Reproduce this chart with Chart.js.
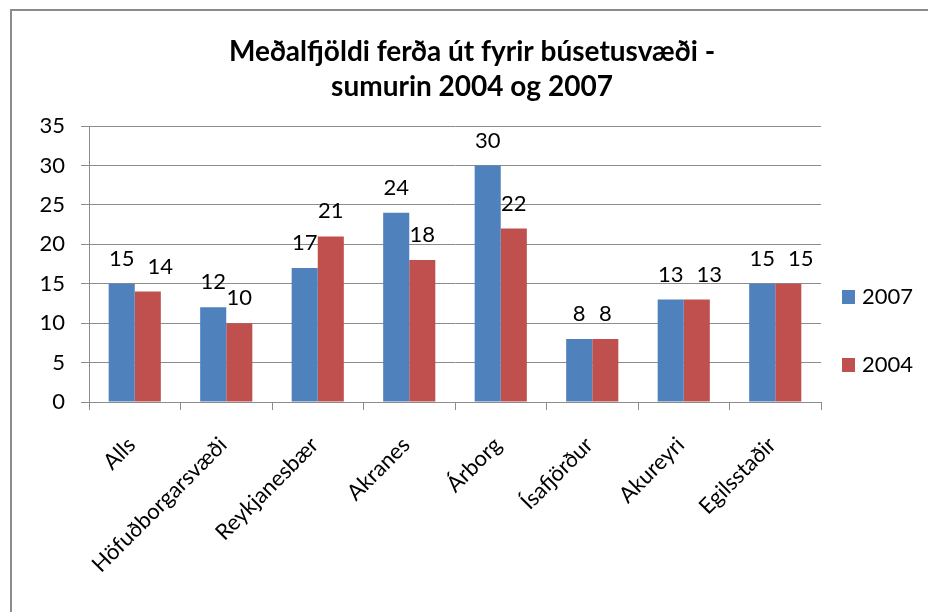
<!DOCTYPE html>
<html>
<head>
<meta charset="utf-8">
<script src="https://cdn.jsdelivr.net/npm/chart.js@4"></script>
<style>
  html, body { margin: 0; padding: 0; background: #fff; }
  #wrap { position: absolute; left: 0; top: 0; width: 928px; height: 612px; overflow: hidden; }
  #frame { position: absolute; left: 10px; top: 9px; width: 940px; height: 640px; border: 2px solid #8c8c8c; box-sizing: border-box; }
  #c { position: absolute; left: 0; top: 0; }
</style>
</head>
<body>
<div id="wrap">
  <div id="frame"></div>
  <canvas id="c" width="928" height="612"></canvas>
</div>
<script>
const categories = ["Alls", "Höfuðborgarsvæði", "Reykjanesbær", "Akranes", "Árborg", "Ísafjörður", "Akureyri", "Egilsstaðir"];
const values2007 = [15, 12, 17, 24, 30, 8, 13, 15];
const values2004 = [14, 10, 21, 18, 22, 8, 13, 15];
const seriesLabels = ["2007", "2004"];
const yTicks = [0, 5, 10, 15, 20, 25, 30, 35];
const titleLines = ["Meðalfjöldi ferða út fyrir búsetusvæði -", "sumurin 2004 og 2007"];

const FONT = "Lato";
const GRAY = "#8c8c8c";
const LABEL_SIZE = 22;

const dataLabelsPlugin = {
  id: "dataLabels",
  afterDatasetsDraw(chart) {
    const ctx = chart.ctx;
    ctx.save();
    ctx.font = LABEL_SIZE + "px " + FONT;
    ctx.fillStyle = "#000";
    ctx.textAlign = "center";
    ctx.textBaseline = "middle";
    const m0 = chart.getDatasetMeta(0);
    const m1 = chart.getDatasetMeta(1);
    const ds = chart.data.datasets;
    m0.data.forEach((el0, j) => {
      const el1 = m1.data[j];
      const t0 = String(ds[0].data[j]);
      const t1 = String(ds[1].data[j]);
      const w0 = ctx.measureText(t0).width;
      const w1 = ctx.measureText(t1).width;
      const y0 = el0.y - 25;
      const y1 = el1.y - 25;
      let x1 = el1.x;
      // simple overlap avoidance like the original (boxes padded by 4px)
      const pad = 4;
      const vOverlap = Math.abs(y1 - y0) < 15;
      const hOverlap = (x1 - w1 / 2 - pad) < (el0.x + w0 / 2 + pad);
      if (vOverlap && hOverlap) {
        x1 = el0.x + w0 / 2 + 13 + w1 / 2;
      }
      ctx.fillText(t0, el0.x, y0);
      ctx.fillText(t1, x1, y1);
    });
    ctx.restore();
  }
};

const legendPlugin = {
  id: "sideLegend",
  afterDraw(chart) {
    const ctx = chart.ctx;
    const area = chart.chartArea;
    ctx.save();
    ctx.font = LABEL_SIZE + "px " + FONT;
    ctx.textBaseline = "middle";
    ctx.textAlign = "left";
    chart.data.datasets.forEach((ds, i) => {
      const cy = area.top + 171 + i * 68;
      const x = area.right + 21;
      ctx.fillStyle = ds.backgroundColor;
      ctx.fillRect(x, cy - 7, 13, 14);
      ctx.fillStyle = "#000";
      ctx.fillText(ds.label, x + 20, cy);
    });
    ctx.restore();
  }
};

new Chart(document.getElementById("c"), {
  type: "bar",
  data: {
    labels: categories,
    datasets: [
      { label: seriesLabels[0], data: values2007, backgroundColor: "#4F81BD", categoryPercentage: 0.57, barPercentage: 1.0 },
      { label: seriesLabels[1], data: values2004, backgroundColor: "#C0504D", categoryPercentage: 0.57, barPercentage: 1.0 }
    ]
  },
  options: {
    responsive: false,
    animation: false,
    devicePixelRatio: 1,
    layout: { padding: { left: 16, right: 0, top: 0, bottom: 0 } },
    plugins: {
      legend: { display: false },
      tooltip: { enabled: false },
      title: {
        display: true,
        text: titleLines,
        color: "#000",
        font: { family: FONT, size: 28, weight: "bold", lineHeight: 1.25 },
        padding: { top: 34, bottom: 22 }
      }
    },
    scales: {
      x: {
        offset: true,
        grid: { display: true, drawOnChartArea: false, drawTicks: true, tickLength: 8, color: GRAY, offset: true },
        border: { display: true, color: GRAY, width: 1 },
        ticks: { color: "#000", font: { family: FONT, size: 22 }, minRotation: 45, maxRotation: 45, autoSkip: false, padding: 22, labelOffset: -3 },
        afterFit(scale) { scale.height = 210; }
      },
      y: {
        min: 0,
        max: 35,
        afterBuildTicks(scale) { scale.ticks = yTicks.map(v => ({ value: v })); },
        grid: { color: GRAY, tickLength: 8, drawTicks: true },
        border: { display: true, color: GRAY, width: 1 },
        ticks: { color: "#000", font: { family: FONT, size: LABEL_SIZE }, padding: 16 },
        afterFit(scale) { scale.width = 73; }
      },
      legendSpace: {
        type: "linear",
        position: "right",
        display: true,
        grid: { display: false, drawTicks: false },
        border: { display: false },
        ticks: { display: false },
        afterFit(scale) { scale.width = 107; }
      }
    }
  },
  plugins: [dataLabelsPlugin, legendPlugin]
});
</script>
</body>
</html>
